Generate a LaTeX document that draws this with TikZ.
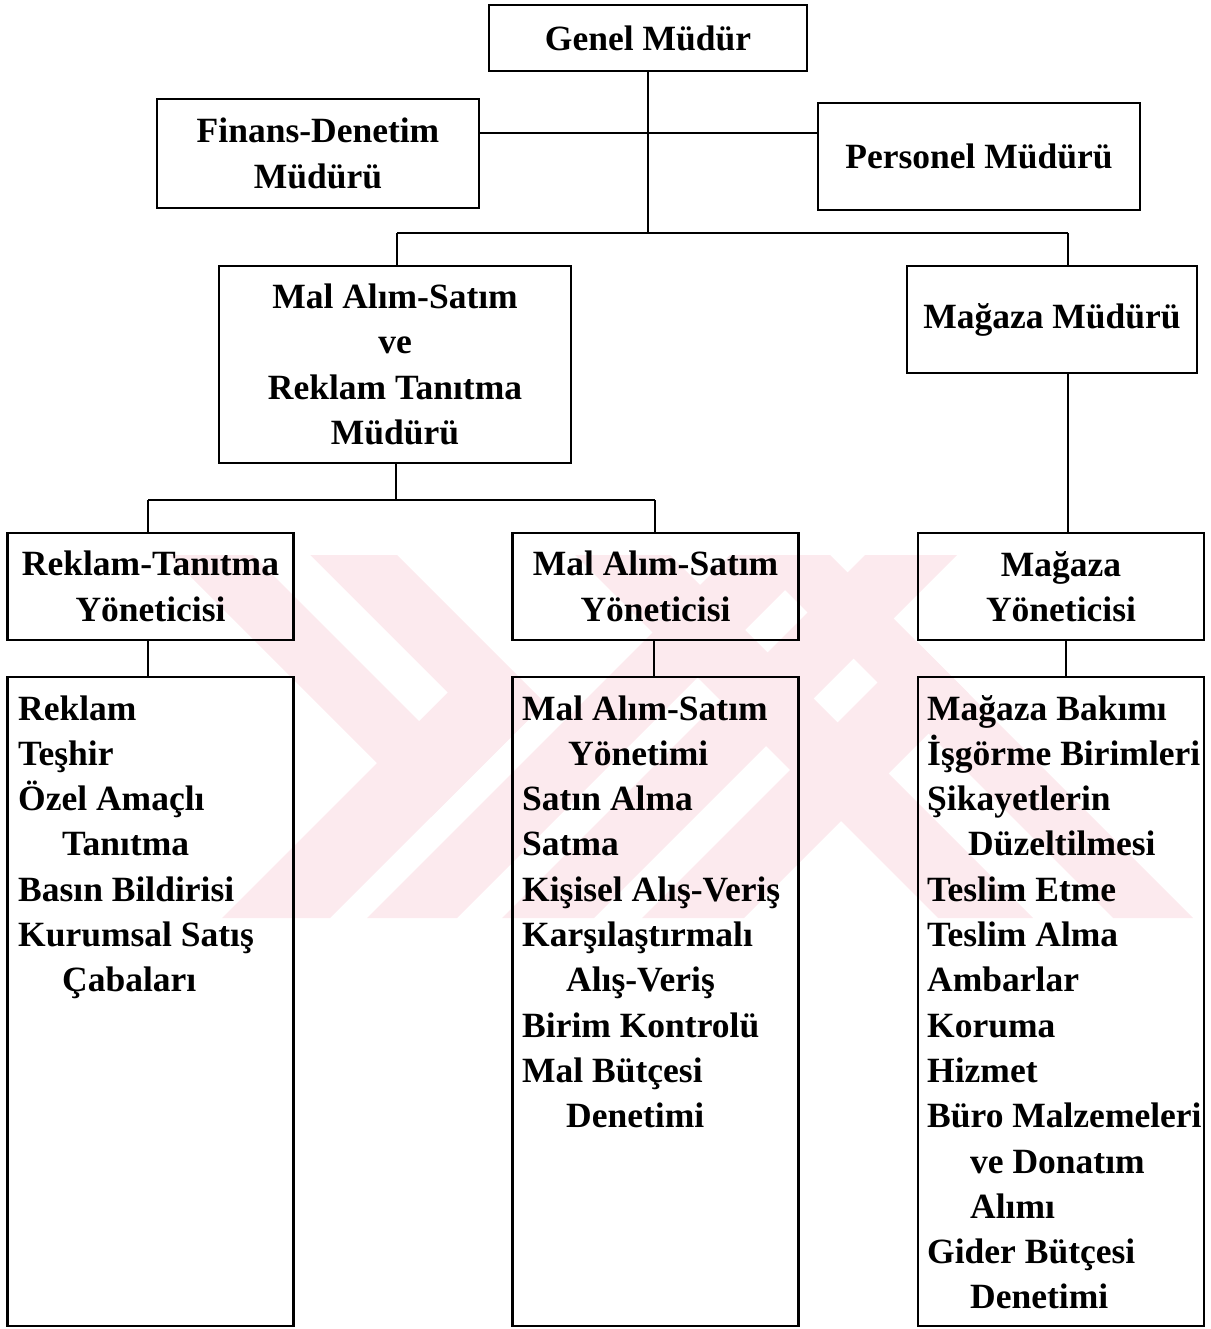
\documentclass[tikz,border=0pt]{standalone}
\usepackage{fontspec}
\setmainfont{Liberation Serif}
\definecolor{wmpink}{RGB}{252,234,238}
\tikzset{
  orgbox/.style={draw, line width=2.8pt, inner sep=0pt, align=center,
    font=\fontsize{35.5}{45.3}\selectfont\bfseries},
  link/.style={line width=2.3pt},
  duties/.style={anchor=base west, inner sep=0pt, text width=285pt, align=flush left,
    font=\fontsize{35.5}{45.3}\selectfont\bfseries},
  wm/.style={fill=wmpink}
}
\newcommand{\ind}{\hspace*{44pt}}
\begin{document}
\begin{tikzpicture}[x=1pt,y=-1pt]
\useasboundingbox (0,0) rectangle (1210,1329);

% faint background emblem
\begin{scope}
  \clip (0,555) rectangle (1210,918);
  \fill[wm] (169,555) -- (397,555) -- (545,703) -- (431,817) -- cycle;
  \fill[wm] (545,703) -- (330,918) -- (222,918) -- (377,763) -- cycle;
  \fill[white] (253,555) -- (310,555) -- (447.5,692.5) -- (419,721) -- cycle;
  \fill[wm] (575,555) -- (670,555) -- (1033,918) -- (938,918) -- cycle;
  \fill[wm] (750,555) -- (830,555) -- (1193,918) -- (1113,918) -- cycle;
  \fill[wm] (730,555) -- (820,555) -- (457,918) -- (367,918) -- cycle;
  \fill[wm] (865,555) -- (957,555) -- (594,918) -- (502,918) -- cycle;
  \fill[wm] (917.5,642.5) -- (968.5,693.5) -- (744,918) -- (642,918) -- cycle;
\end{scope}

% management levels
\node[orgbox, minimum width=318pt, minimum height=66pt] (gm) at (648,38) {Genel Müdür};
\node[orgbox, minimum width=322pt, minimum height=109pt] (fin) at (318,153.5) {Finans-Denetim\\Müdürü};
\node[orgbox, minimum width=322pt, minimum height=107pt] (per) at (979,156.5) {Personel Müdürü};
\node[orgbox, minimum width=352pt, minimum height=197pt] (mal) at (395,364.5) {Mal Alım-Satım\\ve\\Reklam Tanıtma\\Müdürü};
\node[orgbox, minimum width=290pt, minimum height=107pt] (mag) at (1052,319.5) {Mağaza Müdürü};

\node[orgbox, minimum width=286pt, minimum height=107pt] (rty) at (150.5,586.5) {Reklam-Tanıtma\\Yöneticisi};
\node[orgbox, minimum width=286pt, minimum height=107pt] (msy) at (655.5,586.5) {Mal Alım-Satım\\Yöneticisi};
\node[orgbox, minimum width=286pt, minimum height=107pt] (my) at (1061,586.5) {Mağaza\\Yöneticisi};

% duty lists
\node[orgbox, minimum width=286pt, minimum height=649pt] (l1) at (150.5,1001.5) {};
\node[orgbox, minimum width=286pt, minimum height=649pt] (l2) at (655.5,1001.5) {};
\node[orgbox, minimum width=286pt, minimum height=649pt] (l3) at (1061,1001.5) {};

\node[duties] (t1) at (18,720) {Reklam\\Teşhir\\Özel Amaçlı\\\ind Tanıtma\\Basın Bildirisi\\Kurumsal Satış\\\ind Çabaları};
\node[duties] (t2) at (522,720) {Mal Alım-Satım\\\hspace*{46pt}Yönetimi\\Satın Alma\\Satma\\Kişisel Alış-Veriş\\Karşılaştırmalı\\\ind Alış-Veriş\\Birim Kontrolü\\Mal Bütçesi\\\ind Denetimi};
\node[duties] (t3) at (927,720) {Mağaza Bakımı\\İşgörme Birimleri\\Şikayetlerin\\\hspace*{41pt}Düzeltilmesi\\Teslim Etme\\Teslim Alma\\Ambarlar\\Koruma\\Hizmet\\Büro Malzemeleri\\\hspace*{43pt}ve Donatım\\\hspace*{43pt}Alımı\\Gider Bütçesi\\\hspace*{43pt}Denetimi};

% connectors
\coordinate (ja) at (648,133);
\coordinate (jb) at (648,233);
\coordinate (bl) at (397,233);
\coordinate (br) at (1068,233);
\coordinate (cl) at (148,500);
\coordinate (cr) at (655,500);
\coordinate (cm) at (396,500);

\draw[link] (gm.south) -- (jb);
\draw[link] (fin.east |- ja) -- (per.west |- ja);
\draw[link] (bl) -- (br);
\draw[link] (bl) -- (bl |- mal.north);
\draw[link] (br) -- (br |- mag.north);
\draw[link] (cm |- mal.south) -- (cm);
\draw[link] (cl) -- (cr);
\draw[link] (cl) -- (cl |- rty.north);
\draw[link] (cr) -- (cr |- msy.north);
\draw[link] (br |- mag.south) -- (br |- my.north);
\draw[link] (cl |- rty.south) -- (cl |- l1.north);
\draw[link] (654,640) coordinate (dm) -- (dm |- l2.north);
\draw[link] (1066,640) coordinate (dr) -- (dr |- l3.north);
\end{tikzpicture}
\end{document}
